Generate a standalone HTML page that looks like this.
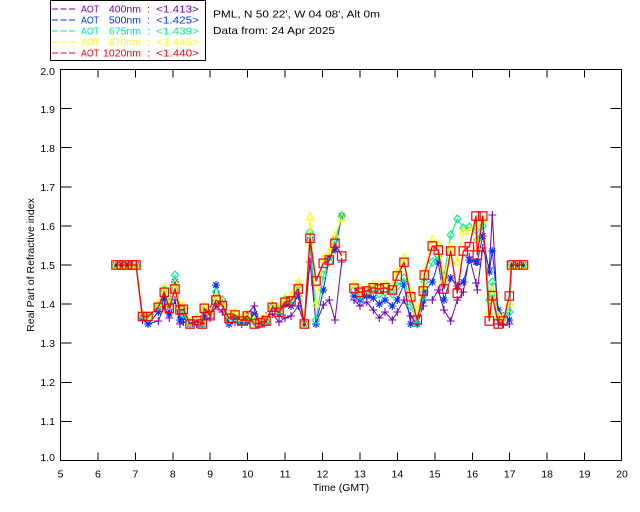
<!DOCTYPE html>
<html>
<head>
<meta charset="utf-8">
<style>
  html,body{margin:0;padding:0;background:#fff;}
  body{width:640px;height:512px;overflow:hidden;}
  svg{display:block;}
  text{font-family:"Liberation Sans",sans-serif;}
</style>
</head>
<body>
<svg width="640" height="512" viewBox="0 0 640 512" xmlns="http://www.w3.org/2000/svg">
  <rect x="0" y="0" width="640" height="512" fill="#fff"/>
  <defs>
    <marker id="mP" markerWidth="10" markerHeight="10" refX="5" refY="5" markerUnits="userSpaceOnUse" overflow="visible">
      <path d="M1,5 H9 M5,1 V9" stroke="#7000b0" stroke-width="1.1" fill="none"/>
    </marker>
    <marker id="mB" markerWidth="10" markerHeight="10" refX="5" refY="5" markerUnits="userSpaceOnUse" overflow="visible">
      <path d="M1,5 H9 M5,1 V9 M2.2,2.2 L7.8,7.8 M7.8,2.2 L2.2,7.8" stroke="#0030ff" stroke-width="1.1" fill="none"/>
    </marker>
    <marker id="mG" markerWidth="10" markerHeight="10" refX="5" refY="5" markerUnits="userSpaceOnUse" overflow="visible">
      <path d="M5,1 L8.5,5 L5,9 L1.5,5 Z" stroke="#00f080" stroke-width="1.1" fill="none"/>
    </marker>
    <marker id="mY" markerWidth="10" markerHeight="10" refX="5" refY="5.5" markerUnits="userSpaceOnUse" overflow="visible">
      <path d="M5,1.3 L8.8,8.5 L1.2,8.5 Z" stroke="#ffff00" stroke-width="1.1" fill="none"/>
    </marker>
    <marker id="mR" markerWidth="10" markerHeight="10" refX="5" refY="5" markerUnits="userSpaceOnUse" overflow="visible">
      <rect x="0.8" y="0.8" width="8.4" height="8.4" stroke="#ff0000" stroke-width="1.2" fill="none"/>
    </marker>
  </defs>

  <!-- Legend box -->
  <rect x="50.5" y="0.5" width="155" height="60" fill="none" stroke="#000" stroke-width="1"/>
  <g font-size="10.5">
    <line x1="52" y1="9" x2="76" y2="9" stroke="#7000b0" stroke-width="1" stroke-dasharray="6,2.5"/>
    <text x="81" y="12.5" fill="#7000b0" textLength="18" lengthAdjust="spacingAndGlyphs">AOT</text>
    <text x="141" y="12.5" fill="#7000b0" text-anchor="end">400nm</text>
    <text x="147" y="12.5" fill="#7000b0">:</text>
    <text x="156" y="12.5" fill="#7000b0" textLength="43" lengthAdjust="spacingAndGlyphs">&lt;1.413&gt;</text>

    <line x1="52" y1="20" x2="76" y2="20" stroke="#0030ff" stroke-width="1" stroke-dasharray="6,2.5"/>
    <text x="81" y="23.5" fill="#0030ff" textLength="18" lengthAdjust="spacingAndGlyphs">AOT</text>
    <text x="141" y="23.5" fill="#0030ff" text-anchor="end">500nm</text>
    <text x="147" y="23.5" fill="#0030ff">:</text>
    <text x="156" y="23.5" fill="#0030ff" textLength="43" lengthAdjust="spacingAndGlyphs">&lt;1.425&gt;</text>

    <line x1="52" y1="31" x2="76" y2="31" stroke="#00f080" stroke-width="1" stroke-dasharray="6,2.5"/>
    <text x="81" y="34.5" fill="#00f080" textLength="18" lengthAdjust="spacingAndGlyphs">AOT</text>
    <text x="141" y="34.5" fill="#00f080" text-anchor="end">675nm</text>
    <text x="147" y="34.5" fill="#00f080">:</text>
    <text x="156" y="34.5" fill="#00f080" textLength="43" lengthAdjust="spacingAndGlyphs">&lt;1.439&gt;</text>

    <line x1="52" y1="42" x2="76" y2="42" stroke="#ffff00" stroke-width="1" stroke-dasharray="6,2.5"/>
    <text x="81" y="45.5" fill="#ffff00" textLength="18" lengthAdjust="spacingAndGlyphs">AOT</text>
    <text x="141" y="45.5" fill="#ffff00" text-anchor="end">870nm</text>
    <text x="147" y="45.5" fill="#ffff00">:</text>
    <text x="156" y="45.5" fill="#ffff00" textLength="43" lengthAdjust="spacingAndGlyphs">&lt;1.445&gt;</text>

    <line x1="52" y1="53" x2="76" y2="53" stroke="#ff0000" stroke-width="1" stroke-dasharray="6,2.5"/>
    <text x="81" y="56.5" fill="#ff0000" textLength="18" lengthAdjust="spacingAndGlyphs">AOT</text>
    <text x="141" y="56.5" fill="#ff0000" text-anchor="end">1020nm</text>
    <text x="147" y="56.5" fill="#ff0000">:</text>
    <text x="156" y="56.5" fill="#ff0000" textLength="43" lengthAdjust="spacingAndGlyphs">&lt;1.440&gt;</text>
  </g>

  <text x="213" y="17.5" font-size="10.5" fill="#000" textLength="167" lengthAdjust="spacingAndGlyphs">PML, N 50 22', W 04 08', Alt 0m</text>
  <text x="213" y="34" font-size="10.5" fill="#000" textLength="122" lengthAdjust="spacingAndGlyphs">Data from: 24 Apr 2025</text>

  <!-- Axes frame -->
  <g stroke="#000" stroke-width="1" shape-rendering="crispEdges" fill="none">
    <rect x="60.5" y="69.5" width="561" height="391"/>
    <path d="M97.9,460.5V452.5 M135.4,460.5V452.5 M172.8,460.5V452.5 M210.2,460.5V452.5 M247.7,460.5V452.5 M285.1,460.5V452.5 M322.5,460.5V452.5 M360,460.5V452.5 M397.4,460.5V452.5 M434.8,460.5V452.5 M472.3,460.5V452.5 M509.7,460.5V452.5 M547.1,460.5V452.5 M584.6,460.5V452.5"/>
    <path d="M97.9,69.5V77.5 M135.4,69.5V77.5 M172.8,69.5V77.5 M210.2,69.5V77.5 M247.7,69.5V77.5 M285.1,69.5V77.5 M322.5,69.5V77.5 M360,69.5V77.5 M397.4,69.5V77.5 M434.8,69.5V77.5 M472.3,69.5V77.5 M509.7,69.5V77.5 M547.1,69.5V77.5 M584.6,69.5V77.5"/>
    <path d="M60.5,421.4H71.5 M60.5,382.3H71.5 M60.5,343.2H71.5 M60.5,304.1H71.5 M60.5,265H71.5 M60.5,225.9H71.5 M60.5,186.8H71.5 M60.5,147.7H71.5 M60.5,108.6H71.5"/>
    <path d="M621.5,421.4H610.5 M621.5,382.3H610.5 M621.5,343.2H610.5 M621.5,304.1H610.5 M621.5,265H610.5 M621.5,225.9H610.5 M621.5,186.8H610.5 M621.5,147.7H610.5 M621.5,108.6H610.5"/>
  </g>

  <!-- y tick labels -->
  <g font-size="10.5" fill="#000" text-anchor="end">
    <text x="55" y="75">2.0</text>
    <text x="55" y="113">1.9</text>
    <text x="55" y="152">1.8</text>
    <text x="55" y="191">1.7</text>
    <text x="55" y="230">1.6</text>
    <text x="55" y="269">1.5</text>
    <text x="55" y="308">1.4</text>
    <text x="55" y="347">1.3</text>
    <text x="55" y="386">1.2</text>
    <text x="55" y="425">1.1</text>
    <text x="55" y="461">1.0</text>
  </g>
  <!-- x tick labels -->
  <g font-size="10.5" fill="#000" text-anchor="middle">
    <text x="60.5" y="477.5">5</text>
    <text x="97.9" y="477.5">6</text>
    <text x="135.4" y="477.5">7</text>
    <text x="172.8" y="477.5">8</text>
    <text x="210.2" y="477.5">9</text>
    <text x="247.7" y="477.5">10</text>
    <text x="285.1" y="477.5">11</text>
    <text x="322.5" y="477.5">12</text>
    <text x="360" y="477.5">13</text>
    <text x="397.4" y="477.5">14</text>
    <text x="434.8" y="477.5">15</text>
    <text x="472.3" y="477.5">16</text>
    <text x="509.7" y="477.5">17</text>
    <text x="547.1" y="477.5">18</text>
    <text x="584.6" y="477.5">19</text>
    <text x="622" y="477.5">20</text>
  </g>
  <text x="341" y="491" font-size="10.5" fill="#000" text-anchor="middle">Time (GMT)</text>
  <text x="0" y="0" font-size="10.5" fill="#000" text-anchor="middle" transform="translate(34,265) rotate(-90)">Real Part of Refractive index</text>

  <g fill="none" stroke-width="1" stroke-linejoin="round">
    <!-- 400nm purple -->
    <polyline stroke="#7000b0" marker-start="url(#mP)" marker-mid="url(#mP)" marker-end="url(#mP)"
      points="116,265 121.5,265 127,265 132.5,265 136,265 142.5,320 148,324 158.3,321 164.3,306 169.3,318 175,300 180,324 183.3,322 190,324 196.7,324 202.3,324 204.3,320 210,318 216,306 222.3,312 229,324 235,322 241.7,324 247.3,314 254.3,306 260,324 266,316 272.3,314 279,322 285,318 291,316 298.3,306 304.3,324 310,262 316,324 323.3,305 329.3,300 335,320 341.7,262"/>
    <polyline stroke="#7000b0" marker-start="url(#mP)" marker-mid="url(#mP)" marker-end="url(#mP)"
      points="354,300 360,306 366.7,302 373.3,310 379.3,318 385,312 392.3,320 397.3,312 404,300 410.7,316 417.3,324 423.3,306 424.3,300 432.3,300 438.3,290 444,310 450.7,321 457.3,300 463.3,292 469.3,257 476,283 477.3,290 482.7,248 489.3,268 492.3,215 498.3,324 503.3,324 509.3,324 511.5,265 517.5,265 523.5,265"/>

    <!-- 500nm blue -->
    <polyline stroke="#0030ff" marker-start="url(#mB)" marker-mid="url(#mB)" marker-end="url(#mB)"
      points="116,265 121.5,265 127,265 132.5,265 136,265 142.5,318 148,324 158.3,312 164.3,298 169.3,314 175,282 180,320 183.3,318 190,324 196.7,322 202.3,324 204.3,316 210,310 216,285 222.3,303 229,324 235,318 241.7,322 247.3,322 254.3,314 260,324 266,322 272.3,306 279,314 285,304 291,306 298.3,296 304.3,324 310,240 316,324 323.3,290 329.3,258 335,250 341.7,216"/>
    <polyline stroke="#0030ff" marker-start="url(#mB)" marker-mid="url(#mB)" marker-end="url(#mB)"
      points="354,296 360,300 366.7,296 373.3,298 379.3,304 385,300 392.3,306 397.3,300 404,284 410.7,324 417.3,324 423.3,300 424.3,292 432.3,282 438.3,262 444,300 450.7,278 457.3,286 463.3,282 469.3,260 476,262 477.3,262 482.7,236 489.3,272 492.3,251 498.3,310 503.3,316 509.3,320 511.5,265 517.5,265 523.5,265"/>

    <!-- 675nm green -->
    <polyline stroke="#00f080" marker-start="url(#mG)" marker-mid="url(#mG)" marker-end="url(#mG)"
      points="116,265 121.5,265 127,265 132.5,265 136,265 142.5,315 148,318 158.3,306 164.3,290 169.3,303 175,275 180,308 183.3,314 190,322 196.7,320 202.3,324 204.3,310 210,312 216,292 222.3,300 229,320 235,316 241.7,322 247.3,318 254.3,322 260,322 266,320 272.3,308 279,310 285,300 291,300 298.3,286 304.3,324 310,232 316,320 323.3,275 329.3,262 335,240 341.7,216"/>
    <polyline stroke="#00f080" marker-start="url(#mG)" marker-mid="url(#mG)" marker-end="url(#mG)"
      points="354,290 360,296 366.7,292 373.3,290 379.3,294 385,292 392.3,294 397.3,286 404,278 410.7,306 417.3,324 423.3,296 424.3,282 432.3,262 438.3,256 444,276 450.7,235 457.3,219 463.3,228 469.3,227 476,230 477.3,240 482.7,226 489.3,300 492.3,282 498.3,318 503.3,318 509.3,312 511.5,265 517.5,265 523.5,265"/>

    <!-- 870nm yellow -->
    <polyline stroke="#ffff00" marker-start="url(#mY)" marker-mid="url(#mY)" marker-end="url(#mY)"
      points="116,265 121.5,265 127,265 132.5,265 136,265 142.5,314 148,316 158.3,303 164.3,287 169.3,305 175,284 180,306 183.3,306 190,322 196.7,318 202.3,322 204.3,306 210,312 216,296 222.3,302 229,314 235,312 241.7,318 247.3,314 254.3,320 260,320 266,318 272.3,304 279,308 285,298 291,296 298.3,282 304.3,324 310,217 316,304 323.3,258 329.3,252 335,236 341.7,218"/>
    <polyline stroke="#ffff00" marker-start="url(#mY)" marker-mid="url(#mY)" marker-end="url(#mY)"
      points="354,284 360,290 366.7,288 373.3,284 379.3,285 385,284 392.3,286 397.3,272 404,258 410.7,292 417.3,310 423.3,286 424.3,272 432.3,240 438.3,244 444,280 450.7,246 457.3,262 463.3,231 469.3,231 476,224 477.3,248 482.7,220 489.3,312 492.3,290 498.3,316 503.3,318 509.3,303 511.5,265 517.5,265 523.5,265"/>

    <!-- 1020nm red -->
    <polyline stroke="#ff0000" stroke-width="1.3" marker-start="url(#mR)" marker-mid="url(#mR)" marker-end="url(#mR)"
      points="116,265 121.5,265 127,265 132.5,265 136,265 142.5,316.5 148,316.5 158.3,307.3 164.3,292.3 169.3,308.3 175,289 180,310 183.3,309.3 190,324 196.7,320.7 202.3,324 204.3,308.3 210,315.7 216,300 222.3,305.7 229,318.3 235,315 241.7,321 247.3,316 254.3,324 260,322.7 266,321 272.3,307.3 279,312.3 285,302.3 291,301 298.3,289 304.3,324 310,238.3 316,281 323.3,263.3 329.3,260 335,243.3 341.7,256"/>
    <polyline stroke="#ff0000" stroke-width="1.3" marker-start="url(#mR)" marker-mid="url(#mR)" marker-end="url(#mR)"
      points="354,288.3 360,292.3 366.7,291 373.3,287.7 379.3,289 385,287.7 392.3,290 397.3,276 404,262.3 410.7,296.7 417.3,320 423.3,291 424.3,275 432.3,246 438.3,250 444,289 450.7,251 457.3,293.3 463.3,251 469.3,246.7 476,216 477.3,255 482.7,216 489.3,321 492.3,295.7 498.3,324 503.3,321 509.3,296 511.5,265 517.5,265 523.5,265"/>
  </g>
</svg>
</body>
</html>
